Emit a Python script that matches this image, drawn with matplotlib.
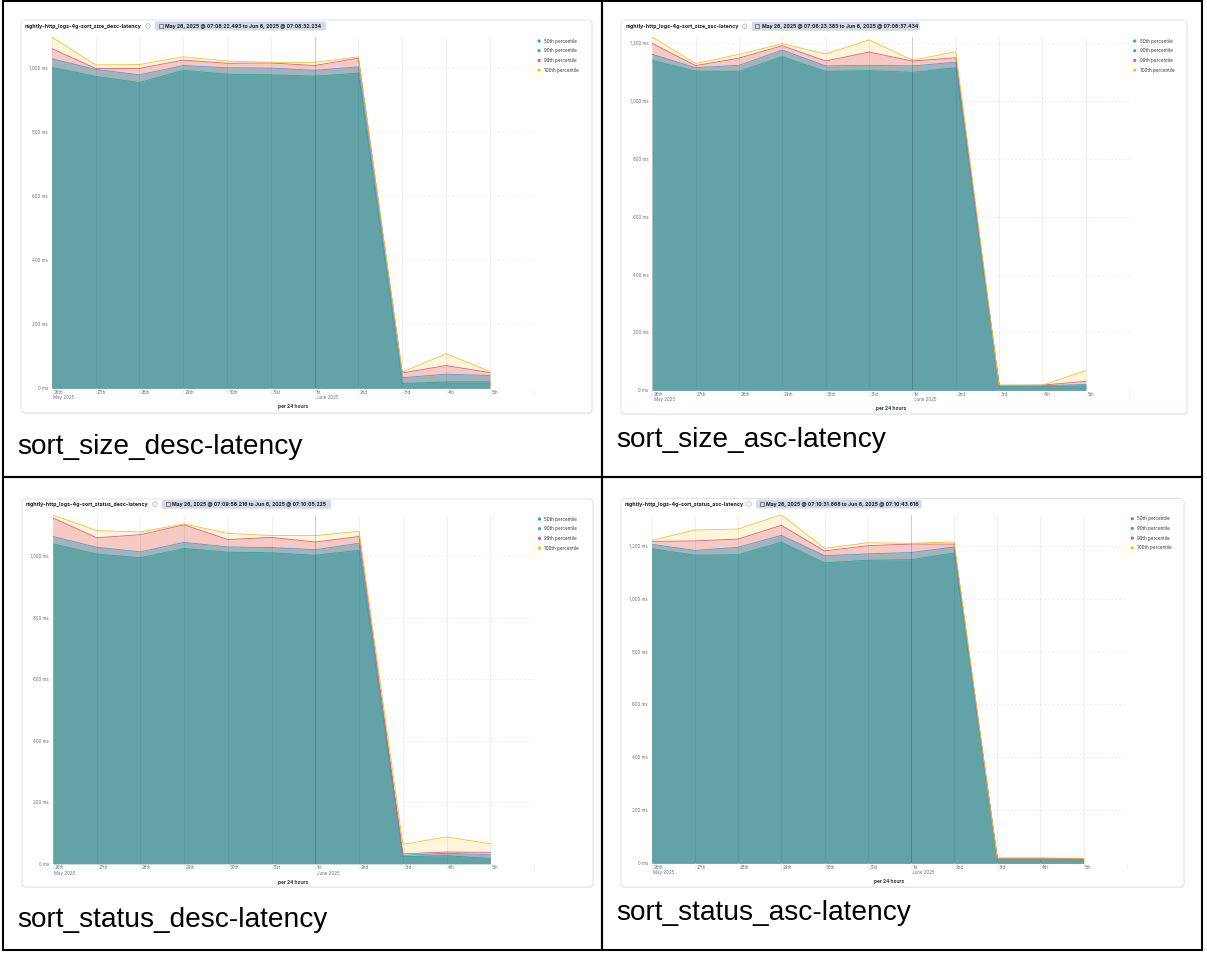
import numpy as np
import matplotlib
matplotlib.use("Agg")
import matplotlib.pyplot as plt
import matplotlib.transforms as mtransforms
from matplotlib.patches import FancyBboxPatch, Rectangle, Circle

W, H = 1207, 956

# x axis: one point per day
days = ["26th\nMay 2025", "27th", "28th", "29th", "30th", "31st",
        "1st\nJune 2025", "2nd", "3rd", "4th", "5th"]
june_idx = 6
series_names = ["50th percentile", "90th percentile", "99th percentile", "100th percentile"]

captions = ["sort_size_desc-latency", "sort_size_asc-latency",
            "sort_status_desc-latency", "sort_status_asc-latency"]
titles = ["nightly-http_logs-4g-" + c for c in captions]
time_ranges = [
    "May 26, 2025 @ 07:08:22.493 to Jun 6, 2025 @ 07:08:32.234",
    "May 26, 2025 @ 07:06:23.383 to Jun 6, 2025 @ 07:06:37.434",
    "May 26, 2025 @ 07:09:58.216 to Jun 6, 2025 @ 07:10:05.225",
    "May 26, 2025 @ 07:10:31.868 to Jun 6, 2025 @ 07:10:43.616",
]

# latency in ms
size_desc_p50 = [1002, 973, 954, 992, 980, 978, 974, 983, 15, 20, 20]
size_desc_p90 = [1028, 995, 978, 1007, 1000, 999, 992, 1003, 33, 44, 40]
size_desc_p99 = [1060, 998, 998, 1024, 1014, 1015, 1007, 1030, 48, 71, 49]
size_desc_p100 = [1096, 1009, 1010, 1034, 1021, 1017, 1017, 1034, 50, 108, 53]

size_asc_p50 = [1140, 1103, 1102, 1153, 1102, 1105, 1099, 1115, 13, 14, 15]
size_asc_p90 = [1161, 1115, 1123, 1176, 1121, 1123, 1121, 1134, 15, 16, 20]
size_asc_p99 = [1199, 1122, 1148, 1191, 1138, 1169, 1138, 1149, 17, 18, 31]
size_asc_p100 = [1221, 1129, 1161, 1198, 1162, 1211, 1141, 1170, 18, 18, 68]

status_desc_p50 = [1041, 1008, 996, 1026, 1014, 1012, 1004, 1020, 23, 26, 17]
status_desc_p90 = [1065, 1030, 1015, 1046, 1031, 1029, 1022, 1043, 27, 34, 29]
status_desc_p99 = [1125, 1061, 1071, 1103, 1055, 1062, 1047, 1065, 32, 38, 37]
status_desc_p100 = [1135, 1084, 1080, 1106, 1075, 1068, 1068, 1082, 63, 87, 65]

status_asc_p50 = [1189, 1164, 1166, 1213, 1135, 1145, 1147, 1172, 15, 15, 15]
status_asc_p90 = [1205, 1182, 1194, 1239, 1162, 1169, 1174, 1195, 17, 17, 17]
status_asc_p99 = [1216, 1218, 1225, 1277, 1180, 1200, 1206, 1206, 19, 19, 18]
status_asc_p100 = [1220, 1259, 1263, 1317, 1190, 1211, 1209, 1214, 20, 20, 19]

panel_series = [
    [size_desc_p50, size_desc_p90, size_desc_p99, size_desc_p100],
    [size_asc_p50, size_asc_p90, size_asc_p99, size_asc_p100],
    [status_desc_p50, status_desc_p90, status_desc_p99, status_desc_p100],
    [status_asc_p50, status_asc_p90, status_asc_p99, status_asc_p100],
]

# colours
dot_colors = ["#1db3a6", "#3a9de6", "#ec4f8b", "#f5c400"]
line_colors = ["#2aa9a1", "#4d9bd6", "#e8577f", "#f2c12e"]
fill_colors = ["#63a3a8", "#a2b3b9", "#f7c9c3", "#fef5da"]
grid_col = "#e6e9ee"
tick_col = "#69707d"
text_col = "#343741"

# pixel layout: plot box (left, right, top, bottom), card box, caption position
plot_boxes = [(51.8, 533.6, 37, 388.3), (652.2, 1129.2, 37, 390.3),
              (53, 534, 515, 863.7), (651.8, 1126.8, 514.7, 863.3)]
card_boxes = [(21, 592, 20, 413), (621, 1187, 20, 414),
              (22, 593, 499, 887), (621, 1184, 498.5, 887)]
header_y = [26, 26.3, 504.3, 504]
title_x = [25, 626, 26, 625]
badge_x = [(155, 326), (751.6, 919.8), (162, 331), (756, 921.7)]
caption_pos = [(17, 454), (616, 447), (17, 927), (616, 920)]

FONT = "Inter"

fig = plt.figure(figsize=(W / 100, H / 100), dpi=100)
bg = fig.add_axes([0, 0, 1, 1], zorder=0)
bg.set_xlim(0, W)
bg.set_ylim(H, 0)
bg.axis("off")

# table borders
for x0, x1, y0, y1 in [(3, 602, 1, 477), (602, 1202, 1, 477),
                       (3, 602, 477, 950), (602, 1202, 477, 950)]:
    bg.add_patch(Rectangle((x0, y0), x1 - x0, y1 - y0, fill=False,
                           edgecolor="black", lw=1.5))

for i in range(4):
    left, right, top, bottom = plot_boxes[i]
    cx0, cx1, cy0, cy1 = card_boxes[i]

    # card
    bg.add_patch(FancyBboxPatch((cx0 + 0.5, cy0 + 1), cx1 - cx0, cy1 - cy0,
                                boxstyle="round,pad=0,rounding_size=4",
                                facecolor="#eef1f6", edgecolor="none"))
    bg.add_patch(FancyBboxPatch((cx0, cy0), cx1 - cx0, cy1 - cy0,
                                boxstyle="round,pad=0,rounding_size=4",
                                facecolor="white", edgecolor="#d9dfe9", lw=0.6))

    # header: title, info icon, time range badge
    hy = header_y[i]
    bg.text(title_x[i], hy, titles[i], fontsize=3.75, fontweight="bold",
            family=FONT, color="#1a1c21", va="center", ha="left")
    bx0, bx1 = badge_x[i]
    bg.add_patch(Circle((bx0 - 7, hy), 2.3, fill=False, edgecolor="#98a2b3", lw=0.4))
    bg.text(bx0 - 7, hy, "i", fontsize=2.6, family=FONT, color="#98a2b3",
            ha="center", va="center")
    bg.add_patch(FancyBboxPatch((bx0, hy - 4.5), bx1 - bx0, 9,
                                boxstyle="round,pad=0,rounding_size=2",
                                facecolor="#d5dbe6", edgecolor="none"))
    bg.add_patch(Rectangle((bx0 + 3.5, hy - 2), 4, 4, fill=False,
                           edgecolor="#343741", lw=0.4))
    bg.text(bx0 + 10, hy, time_ranges[i], fontsize=3.65, fontweight="bold",
            family=FONT, color="#1a1c21", va="center", ha="left")

    # legend
    for k, name in enumerate(series_names):
        ly = top + 4 + k * 9.7
        bg.add_patch(Circle((right + 5.5, ly), 1.6, facecolor=dot_colors[k],
                            edgecolor="none"))
        bg.text(right + 10.5, ly, name, fontsize=3.3, family=FONT,
                color=text_col, va="center", ha="left")

    # caption under the card
    capx, capy = caption_pos[i]
    bg.text(capx, capy, captions[i], fontsize=20.2, family="Liberation Sans",
            color="black", va="baseline", ha="left")

    # chart
    ax = fig.add_axes([left / W, 1 - bottom / H, (right - left) / W, (bottom - top) / H],
                      zorder=1)
    ax.set_facecolor("none")
    series = panel_series[i]
    x = np.arange(len(series[0]))
    ymax = max(max(s) for s in series)

    yticks = np.arange(0, ymax + 1, 200)
    for v in yticks[1:]:
        ax.axhline(v, color=grid_col, lw=0.6, ls=(0, (2.5, 2.5)), zorder=0.5)
    ax.axhline(0, color=grid_col, lw=0.7, zorder=3)

    for k in range(3, -1, -1):
        ax.fill_between(x, 0, series[k], color=fill_colors[k], lw=0, zorder=1 + (3 - k) * 0.1)
    for k in range(4):
        ax.plot(x, series[k], color=line_colors[k], lw=0.6, zorder=2 + k * 0.1)

    xgrid = np.arange(len(days) + 1)
    for g in xgrid:
        if g == june_idx:
            ax.axvline(g, color="black", alpha=0.2, lw=0.7, zorder=3)
        else:
            ax.axvline(g, color="black", alpha=0.06, lw=0.7, zorder=3)

    ax.set_xlim(0, len(days))
    ax.set_ylim(0, ymax)
    ax.set_yticks(yticks)
    ax.set_yticklabels([f"{v:,.0f} ms" for v in yticks], fontsize=3.2,
                       family=FONT, color=tick_col)
    ax.set_xticks(xgrid)
    ax.set_xticklabels(days + [""], fontsize=3.2, family=FONT, color=tick_col,
                       ha="left", va="top", linespacing=1.15)
    ax.tick_params(axis="y", length=0, pad=2.8)
    ax.tick_params(axis="x", length=4.3, width=0.5, color=grid_col, pad=-3.3)
    shift = mtransforms.ScaledTranslation(1.5 / 100, 0, fig.dpi_scale_trans)
    for lab in ax.get_xticklabels():
        lab.set_transform(lab.get_transform() + shift)
    for sp in ax.spines.values():
        sp.set_visible(False)

    ax.text(0.5, -(18.5 / (bottom - top)), "per 24 hours", transform=ax.transAxes,
            fontsize=3.5, fontweight="bold", family=FONT, color=text_col,
            ha="center", va="center")

fig.savefig("out.png", dpi=100, facecolor="white")
